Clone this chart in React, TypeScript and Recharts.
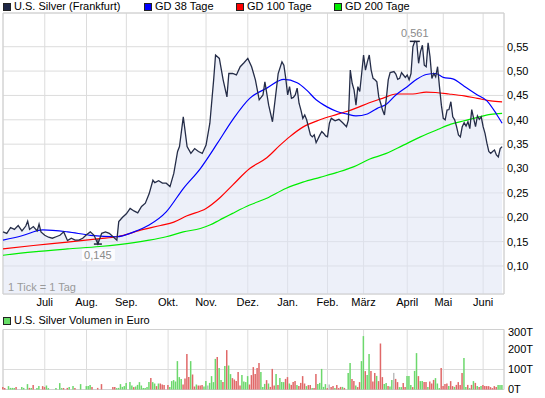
import React from "react";
import {
  ComposedChart,
  Area,
  Line,
  Bar,
  Cell,
  XAxis,
  YAxis,
  CartesianGrid,
  ReferenceArea,
  ReferenceDot,
} from "recharts";

// Handelstage seit Anfang Juni, Monatsanfänge als Ticks
const monthTicks = [22, 44, 65, 87, 107, 129, 150, 171, 190, 213, 232, 253];
const monthLabels = ["Juli", "Aug.", "Sep.", "Okt.", "Nov.", "Dez.", "Jan.", "Feb.", "März", "April", "Mai", "Juni"];
const priceTicks = [0.1, 0.15, 0.2, 0.25, 0.3, 0.35, 0.4, 0.45, 0.5, 0.55];
const volumeTicks = [0, 100, 200, 300];

// Kurs (Tag, Euro)
const price: [number, number][] = [
  [0, 0.17], [2, 0.167], [4, 0.179], [6, 0.175], [8, 0.183], [10, 0.172], [12, 0.182], [13, 0.192],
  [14, 0.175], [16, 0.181], [18, 0.172], [19, 0.186], [20, 0.17], [22, 0.163], [24, 0.159], [26, 0.157],
  [28, 0.16], [30, 0.163], [32, 0.17], [34, 0.152], [36, 0.157], [38, 0.153], [40, 0.153], [42, 0.157],
  [44, 0.164], [46, 0.17], [48, 0.163], [50, 0.145], [52, 0.167], [54, 0.17], [56, 0.167], [58, 0.16],
  [60, 0.153], [61, 0.191], [63, 0.2], [65, 0.207], [67, 0.218], [69, 0.213], [71, 0.209], [73, 0.222],
  [75, 0.229], [77, 0.248], [79, 0.276], [80, 0.271], [82, 0.275], [84, 0.27], [86, 0.27], [88, 0.263],
  [90, 0.29], [92, 0.335], [93, 0.345], [95, 0.406], [97, 0.345], [99, 0.331], [101, 0.341], [103, 0.335],
  [105, 0.331], [107, 0.348], [109, 0.393], [111, 0.482], [112, 0.533], [114, 0.526], [116, 0.482], [118, 0.447],
  [119, 0.495], [121, 0.495], [123, 0.492], [125, 0.509], [127, 0.517], [129, 0.526], [131, 0.509], [133, 0.482],
  [135, 0.441], [137, 0.451], [138, 0.478], [140, 0.43], [142, 0.396], [144, 0.461], [145, 0.495], [147, 0.519],
  [148, 0.512], [149, 0.485], [150, 0.451], [151, 0.468], [152, 0.444], [153, 0.446], [154, 0.451], [155, 0.465],
  [156, 0.434], [157, 0.42], [158, 0.403], [159, 0.41], [160, 0.4], [162, 0.369], [163, 0.365], [164, 0.369],
  [165, 0.353], [167, 0.369], [168, 0.376], [169, 0.372], [170, 0.367], [171, 0.365], [172, 0.393], [173, 0.403],
  [175, 0.398], [177, 0.401], [179, 0.394], [181, 0.386], [182, 0.4], [183, 0.502], [184, 0.475], [185, 0.461],
  [186, 0.43], [187, 0.468], [188, 0.458], [189, 0.495], [190, 0.533], [191, 0.502], [192, 0.519], [193, 0.533],
  [194, 0.502], [195, 0.485], [196, 0.482], [197, 0.478], [198, 0.447], [199, 0.434], [200, 0.42], [201, 0.41],
  [202, 0.444], [203, 0.482], [204, 0.497], [206, 0.499], [207, 0.494], [208, 0.483], [209, 0.485], [210, 0.497],
  [211, 0.492], [212, 0.487], [213, 0.492], [214, 0.482], [215, 0.495], [216, 0.55], [217, 0.561], [218, 0.56],
  [219, 0.516], [220, 0.54], [221, 0.553], [222, 0.512], [223, 0.509], [224, 0.558], [225, 0.53], [226, 0.485],
  [227, 0.495], [228, 0.488], [229, 0.509], [230, 0.468], [231, 0.43], [232, 0.403], [233, 0.4], [234, 0.42],
  [235, 0.421], [236, 0.437], [237, 0.406], [238, 0.4], [239, 0.386], [240, 0.369], [241, 0.365], [242, 0.386],
  [243, 0.394], [244, 0.387], [245, 0.396], [246, 0.382], [247, 0.421], [248, 0.403], [249, 0.386], [250, 0.408],
  [251, 0.401], [252, 0.406], [253, 0.386], [254, 0.372], [255, 0.352], [256, 0.335], [257, 0.331], [258, 0.335],
  [259, 0.338], [260, 0.328], [261, 0.324], [262, 0.341], [263, 0.345],
];

// gleitende Durchschnitte
const gd38: [number, number][] = [
  [0, 0.153], [10, 0.162], [21, 0.174], [34, 0.17], [46, 0.163], [60, 0.16], [69, 0.17], [77, 0.184],
  [86, 0.211], [95, 0.259], [104, 0.3], [113, 0.352], [121, 0.4], [130, 0.444], [139, 0.465], [148, 0.483],
  [155, 0.476], [160, 0.461], [165, 0.441], [171, 0.426], [176, 0.417], [181, 0.412], [186, 0.408], [192, 0.412],
  [197, 0.423], [202, 0.432], [207, 0.451], [213, 0.468], [218, 0.483], [223, 0.493], [228, 0.495], [232, 0.487],
  [237, 0.484], [243, 0.469], [250, 0.451], [255, 0.439], [260, 0.412], [263, 0.393],
];
const gd100: [number, number][] = [
  [0, 0.135], [16, 0.142], [34, 0.149], [51, 0.156], [60, 0.16], [74, 0.175], [83, 0.183], [90, 0.19],
  [97, 0.203], [107, 0.218], [114, 0.239], [121, 0.266], [130, 0.3], [139, 0.322], [146, 0.348], [151, 0.365],
  [158, 0.385], [167, 0.4], [176, 0.411], [181, 0.417], [186, 0.424], [193, 0.435], [200, 0.444], [207, 0.453],
  [216, 0.453], [223, 0.457], [228, 0.456], [235, 0.453], [243, 0.449], [250, 0.444], [257, 0.439], [263, 0.437],
];
const gd200: [number, number][] = [
  [0, 0.122], [16, 0.129], [34, 0.135], [51, 0.14], [69, 0.148], [77, 0.153], [86, 0.16], [95, 0.17],
  [104, 0.177], [109, 0.184], [114, 0.194], [121, 0.208], [130, 0.225], [139, 0.239], [149, 0.259], [158, 0.272],
  [167, 0.282], [176, 0.292], [185, 0.304], [193, 0.319], [202, 0.331], [211, 0.348], [220, 0.365], [229, 0.38],
  [236, 0.391], [243, 0.398], [250, 0.405], [257, 0.411], [263, 0.413],
];

// Volumen in Tausend Euro: [Tag, Wert, g=steigend / r=fallend / n=unverändert]
const volume: [number, number, string][] = [
  [0, 12, "r"], [1, 8, "r"], [3, 17, "g"], [4, 8, "g"], [5, 8, "g"], [6, 7, "g"], [7, 12, "r"], [10, 12, "g"],
  [11, 8, "g"], [13, 27, "g"], [14, 8, "r"], [15, 8, "g"], [16, 22, "r"], [18, 8, "g"], [19, 17, "g"], [21, 17, "r"],
  [22, 12, "r"], [23, 20, "g"], [24, 7, "g"], [28, 7, "g"], [30, 32, "g"], [31, 7, "g"], [32, 7, "r"], [34, 8, "r"],
  [35, 12, "g"], [37, 17, "g"], [38, 7, "r"], [41, 27, "g"], [44, 17, "g"], [45, 17, "g"], [46, 22, "g"], [47, 12, "r"],
  [50, 8, "r"], [52, 27, "r"], [58, 12, "r"], [59, 12, "r"], [60, 7, "g"], [61, 8, "g"], [62, 27, "g"], [63, 13, "g"],
  [64, 17, "g"], [65, 32, "g"], [67, 37, "g"], [68, 20, "g"], [69, 12, "r"], [70, 15, "g"], [71, 23, "g"], [72, 37, "g"],
  [73, 20, "g"], [74, 7, "g"], [75, 7, "g"], [76, 12, "g"], [77, 37, "g"], [78, 57, "r"], [79, 37, "g"], [80, 30, "g"],
  [81, 17, "r"], [82, 30, "g"], [83, 30, "r"], [84, 25, "r"], [85, 22, "r"], [87, 22, "r"], [88, 13, "g"], [89, 42, "g"],
  [90, 47, "g"], [91, 40, "g"], [92, 142, "g"], [93, 62, "g"], [94, 53, "g"], [95, 25, "r"], [96, 55, "r"], [97, 177, "r"],
  [98, 62, "r"], [99, 142, "g"], [100, 75, "r"], [101, 15, "r"], [102, 25, "g"], [103, 20, "r"], [104, 20, "r"], [105, 23, "r"],
  [106, 15, "g"], [107, 42, "g"], [108, 20, "n"], [109, 33, "g"], [110, 67, "g"], [111, 37, "g"], [112, 153, "g"], [113, 162, "r"],
  [114, 107, "g"], [115, 47, "g"], [116, 37, "r"], [117, 117, "g"], [118, 197, "r"], [119, 120, "g"], [120, 77, "g"], [121, 57, "r"],
  [122, 50, "r"], [123, 42, "r"], [124, 87, "r"], [125, 20, "r"], [126, 73, "g"], [127, 40, "g"], [128, 37, "g"], [129, 67, "g"],
  [130, 25, "r"], [131, 72, "r"], [132, 112, "r"], [133, 77, "r"], [134, 107, "r"], [135, 133, "r"], [136, 88, "g"], [137, 13, "g"],
  [138, 28, "g"], [139, 47, "r"], [140, 30, "g"], [141, 13, "r"], [142, 103, "r"], [143, 20, "r"], [144, 77, "g"], [145, 23, "r"],
  [146, 57, "g"], [147, 37, "g"], [148, 37, "g"], [149, 53, "r"], [150, 62, "r"], [151, 30, "g"], [152, 23, "r"], [153, 37, "r"],
  [154, 42, "r"], [155, 23, "g"], [156, 17, "r"], [157, 33, "r"], [158, 67, "r"], [159, 30, "r"], [160, 17, "g"], [161, 22, "r"],
  [162, 22, "r"], [163, 7, "g"], [164, 7, "r"], [165, 77, "r"], [166, 28, "g"], [167, 33, "g"], [168, 103, "g"], [169, 13, "g"],
  [170, 27, "g"], [171, 7, "r"], [172, 25, "n"], [173, 13, "r"], [174, 17, "r"], [175, 7, "g"], [176, 22, "r"], [177, 7, "r"],
  [178, 13, "r"], [179, 13, "g"], [180, 8, "r"], [182, 83, "g"], [183, 132, "g"], [184, 53, "r"], [185, 43, "r"], [186, 20, "g"],
  [187, 12, "r"], [188, 37, "r"], [189, 142, "g"], [190, 267, "g"], [191, 92, "r"], [192, 72, "g"], [193, 177, "g"], [194, 92, "r"],
  [195, 40, "r"], [196, 83, "r"], [197, 68, "g"], [198, 42, "r"], [199, 230, "r"], [200, 62, "r"], [201, 27, "g"], [202, 33, "g"],
  [203, 17, "r"], [204, 15, "g"], [205, 48, "g"], [206, 83, "n"], [207, 53, "r"], [208, 37, "r"], [209, 12, "g"], [210, 12, "g"],
  [211, 33, "r"], [212, 12, "r"], [213, 67, "g"], [214, 67, "g"], [215, 23, "g"], [216, 12, "r"], [217, 93, "g"], [218, 182, "g"],
  [219, 67, "r"], [220, 42, "g"], [221, 42, "g"], [222, 37, "r"], [223, 37, "r"], [224, 13, "g"], [225, 40, "r"], [226, 30, "r"],
  [227, 48, "r"], [228, 57, "g"], [229, 30, "g"], [230, 7, "g"], [231, 108, "r"], [232, 17, "r"], [233, 28, "r"], [234, 30, "r"],
  [235, 17, "g"], [236, 42, "r"], [237, 17, "r"], [238, 13, "g"], [239, 23, "r"], [240, 37, "r"], [241, 23, "r"], [242, 83, "r"],
  [243, 157, "g"], [244, 12, "g"], [245, 23, "r"], [246, 7, "g"], [247, 23, "r"], [248, 42, "g"], [249, 33, "r"], [250, 17, "g"],
  [251, 12, "r"], [252, 17, "g"], [253, 23, "r"], [254, 17, "r"], [255, 17, "r"], [256, 17, "r"], [257, 12, "r"], [258, 7, "r"],
  [259, 17, "r"], [260, 12, "r"], [261, 22, "g"], [262, 22, "g"], [263, 22, "g"],
];

const DAYS: [number, number] = [0, 264];
const Y_DOMAIN: [number, number] = [0.0425, 0.6192];
const FONT = "'Liberation Sans', Arial, sans-serif";
const GRID = "#dcdcdc";
const BAR_COLORS: Record<string, string> = { g: "#6cd86c", r: "#e06868", n: "#bdbdbd" };

const toRows = (pts: [number, number][]) => pts.map(([x, v]) => ({ x, v }));
const priceRows = toRows(price);
const volumeRows = volume.map(([x, v, d]) => ({ x, v, d }));

const comma = (v: number, d: number) => v.toFixed(d).replace(".", ",");
const monthName = (t: number) => monthLabels[monthTicks.indexOf(t)] ?? "";

const hi = price.reduce((a, b) => (b[1] > a[1] ? b : a));
const lo = price.reduce((a, b) => (b[1] < a[1] ? b : a));

const HighMark = (p: any) => (
  <g>
    <line x1={p.cx - 5} x2={p.cx + 5} y1={p.cy} y2={p.cy} stroke="#1d2238" strokeWidth={1.5} />
    <text x={p.cx} y={p.cy - 4} textAnchor="middle" fontSize={11} fontFamily={FONT} fill="#8a8a8a">
      {comma(hi[1], 3)}
    </text>
  </g>
);

const LowMark = (p: any) => (
  <g>
    <line x1={p.cx} x2={p.cx} y1={p.cy - 5} y2={p.cy} stroke="#1d2238" strokeWidth={1} />
    <line x1={p.cx - 4} x2={p.cx + 4} y1={p.cy} y2={p.cy} stroke="#1d2238" strokeWidth={1.5} />
    <rect x={p.cx - 16} y={p.cy + 5} width={33} height={12} fill="#ffffff" fillOpacity={0.8} />
    <text x={p.cx} y={p.cy + 15} textAnchor="middle" fontSize={11} fontFamily={FONT} fill="#8a8a8a">
      {comma(lo[1], 3)}
    </text>
  </g>
);

const legendItems = [
  { label: "U.S. Silver (Frankfurt)", color: "#1e2746", left: 3 },
  { label: "GD 38 Tage", color: "#0000ff", left: 144 },
  { label: "GD 100 Tage", color: "#ff0000", left: 236 },
  { label: "GD 200 Tage", color: "#00ee00", left: 334 },
];

const Swatch = ({ color, left, top }: { color: string; left: number; top: number }) => (
  <div
    style={{
      position: "absolute",
      left,
      top,
      width: 6,
      height: 6,
      background: color,
      border: "1px solid #222",
    }}
  />
);

const textStyle: React.CSSProperties = {
  position: "absolute",
  fontFamily: FONT,
  fontSize: 11,
  lineHeight: "13px",
  color: "#000",
  whiteSpace: "nowrap",
};

export default function App() {
  return (
    <div style={{ position: "absolute", left: 0, top: 0, width: 545, height: 398, background: "#fff", overflow: "hidden" }}>
      {legendItems.map((it) => (
        <React.Fragment key={it.label}>
          <Swatch color={it.color} left={it.left} top={3} />
          <div style={{ ...textStyle, left: it.left + 11, top: 0 }}>{it.label}</div>
        </React.Fragment>
      ))}

      <div style={{ position: "absolute", left: 0, top: 0 }}>
        <ComposedChart width={545} height={312} data={priceRows} margin={{ top: 13, right: 0, left: 3, bottom: 0 }}>
          <CartesianGrid stroke={GRID} strokeWidth={1} />
          <XAxis
            dataKey="x"
            type="number"
            domain={DAYS}
            ticks={monthTicks}
            tickFormatter={monthName}
            height={18}
            tickSize={0}
            tickMargin={4}
            axisLine={false}
            tick={{ fontSize: 11, fontFamily: FONT, fill: "#000" }}
            interval={0}
          />
          <YAxis
            orientation="right"
            type="number"
            domain={Y_DOMAIN}
            allowDataOverflow
            ticks={priceTicks}
            tickFormatter={(v: number) => comma(v, 2)}
            width={41}
            tickSize={0}
            tickMargin={3}
            axisLine={false}
            tick={{ fontSize: 11, fontFamily: FONT, fill: "#000" }}
          />
          <Area
            dataKey="v"
            type="linear"
            stroke="none"
            fill="#dfe4f4"
            fillOpacity={0.55}
            isAnimationActive={false}
          />
          <Line data={toRows(gd200)} dataKey="v" type="monotone" stroke="#00ee00" strokeWidth={1.2} dot={false} isAnimationActive={false} />
          <Line data={toRows(gd100)} dataKey="v" type="monotone" stroke="#ff0000" strokeWidth={1.2} dot={false} isAnimationActive={false} />
          <Line data={toRows(gd38)} dataKey="v" type="monotone" stroke="#0000ff" strokeWidth={1.2} dot={false} isAnimationActive={false} />
          <Line dataKey="v" type="linear" stroke="#252d48" strokeWidth={1.3} dot={false} isAnimationActive={false} />
          <ReferenceArea x1={DAYS[0]} x2={DAYS[1]} y1={Y_DOMAIN[0]} y2={Y_DOMAIN[1]} fill="none" stroke="#d0d0d0" ifOverflow="visible" />
          <ReferenceDot x={hi[0]} y={hi[1]} r={0} shape={HighMark} ifOverflow="visible" />
          <ReferenceDot x={lo[0]} y={lo[1]} r={0} shape={LowMark} ifOverflow="visible" />
        </ComposedChart>
      </div>

      <div style={{ ...textStyle, left: 8, top: 281, color: "#9a9a9a" }}>1 Tick = 1 Tag</div>

      <Swatch color="#66dd66" left={3} top={317} />
      <div style={{ ...textStyle, left: 14, top: 314 }}>U.S. Silver Volumen in Euro</div>

      <div style={{ position: "absolute", left: 0, top: 326 }}>
        <ComposedChart width={545} height={72} data={volumeRows} margin={{ top: 3.5, right: 0, left: 3, bottom: 8.5 }}>
          <CartesianGrid stroke={GRID} strokeWidth={1} />
          <XAxis dataKey="x" type="number" domain={DAYS} ticks={monthTicks} hide />
          <YAxis
            orientation="right"
            type="number"
            domain={[0, 300]}
            ticks={volumeTicks}
            tickFormatter={(v: number) => `${v}T`}
            width={41}
            tickSize={0}
            tickMargin={4}
            axisLine={false}
            tick={{ fontSize: 11, fontFamily: FONT, fill: "#000" }}
          />
          <Bar dataKey="v" barSize={1.5} isAnimationActive={false}>
            {volumeRows.map((r) => (
              <Cell key={r.x} fill={BAR_COLORS[r.d]} />
            ))}
          </Bar>
          <ReferenceArea x1={DAYS[0]} x2={DAYS[1]} y1={0} y2={300} fill="none" stroke="#d0d0d0" ifOverflow="visible" />
        </ComposedChart>
      </div>
    </div>
  );
}
